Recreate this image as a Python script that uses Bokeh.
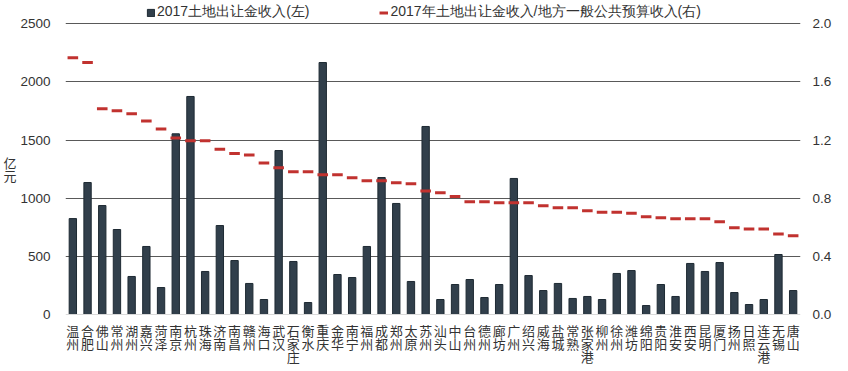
from bokeh.plotting import figure
from bokeh.models import (Range1d, LinearAxis, FixedTicker, Legend, LegendItem,
                          FactorRange, ColumnDataSource, NumeralTickFormatter, Span)
from bokeh.core.properties import value
from bokeh.embed import file_html
from bokeh.resources import INLINE

cities = ["温州", "合肥", "佛山", "常州", "湖州", "嘉兴", "菏泽", "南京", "杭州", "珠海",
          "济南", "南昌", "赣州", "海口", "武汉", "石家庄", "衡水", "重庆", "金华", "南宁",
          "福州", "成都", "郑州", "太原", "苏州", "汕头", "中山", "台州", "德州", "廊坊",
          "广州", "绍兴", "威海", "盐城", "常熟", "张家港", "柳州", "徐州", "潍坊", "绵阳",
          "贵阳", "淮安", "西安", "昆明", "厦门", "扬州", "日照", "连云港", "无锡", "唐山"]

land_revenue = [825, 1135, 937, 731, 327, 585, 232, 1554, 1875, 370,
                765, 464, 267, 129, 1410, 456, 103, 2167, 344, 318,
                585, 1178, 955, 284, 1617, 129, 258, 301, 146, 258,
                1170, 335, 206, 267, 138, 155, 129, 353, 378, 77,
                258, 155, 439, 370, 447, 189, 86, 129, 516, 206]

ratio = [1.766, 1.734, 1.415, 1.401, 1.381, 1.332, 1.277, 1.215, 1.195, 1.195,
         1.137, 1.108, 1.098, 1.043, 1.009, 0.982, 0.982, 0.961, 0.961, 0.940,
         0.920, 0.920, 0.906, 0.899, 0.849, 0.837, 0.812, 0.775, 0.775, 0.768,
         0.768, 0.768, 0.748, 0.734, 0.734, 0.713, 0.704, 0.704, 0.697, 0.672,
         0.665, 0.658, 0.658, 0.658, 0.638, 0.596, 0.589, 0.589, 0.553, 0.541]

left_ticks = [0, 500, 1000, 1500, 2000, 2500]
right_ticks = [0.0, 0.4, 0.8, 1.2, 1.6, 2.0]
legend_labels = ["2017土地出让金收入(左)", "2017年土地出让金收入/地方一般公共预算收入(右)"]
y_title = "亿元"

BAR = "#313F4B"
RED = "#C1322F"
TXT = "#333333"
LATIN = "Liberation Sans"
CJK = "Noto Sans CJK SC"

# frame covers the whole height; the range extends below 0 for the category labels
Y_START, Y_END = -490.2, 2700.4
PX = 371.0 / (Y_END - Y_START)          # pixels per left-axis unit
R_SCALE = right_ticks[-1] / left_ticks[-1]

source = ColumnDataSource(dict(x=cities, v=land_revenue, r=ratio))

# stacked (vertical) category labels: one entry per character
lx, lch, loff = [], [], []
for c in cities:
    for k, ch in enumerate(c):
        lx.append(c)
        lch.append(ch)
        loff.append(15.5 + 13 * k)
lab_src = ColumnDataSource(dict(x=lx, t=lch, off=loff))

p = figure(x_range=FactorRange(factors=cities), y_range=Range1d(Y_START, Y_END),
           width=848, height=371, output_backend="svg", toolbar_location=None,
           min_border_left=65, min_border_right=48, min_border_top=0, min_border_bottom=0)
p.extra_y_ranges = {"r": Range1d(Y_START * R_SCALE, Y_END * R_SCALE)}
p.outline_line_color = None
p.background_fill_color = "white"

bars = p.vbar(x="x", top="v", width=0.5, source=source,
              fill_color=BAR, line_color="#1E2A33", line_width=1)
p.rect(x="x", y="r", width=0.72, height=3, height_units="screen", y_range_name="r",
       source=source, fill_color=RED, line_color=None)
ratio_leg = p.line(x="x", y="r", source=source, line_color=RED, line_width=3,
                   y_range_name="r", visible=False)

p.text(x="x", y=0, text="t", y_offset="off", source=lab_src,
       text_font=value(CJK), text_font_size="13px", text_color=TXT,
       text_align="center", text_baseline="middle")

p.add_layout(Span(location=0, dimension="width", line_color="#D9D9D9", line_width=1))

# grid
p.xgrid.grid_line_color = None
p.ygrid.ticker = FixedTicker(ticks=left_ticks[1:])
p.ygrid.grid_line_color = "#595959"
p.ygrid.grid_line_width = 1

p.xaxis.visible = False


def plain(ax, standoff, font, size):
    ax.axis_line_color = None
    ax.major_tick_line_color = None
    ax.minor_tick_line_color = None
    ax.major_tick_in = 0
    ax.major_tick_out = 0
    ax.major_label_standoff = standoff
    ax.major_label_text_font = font
    ax.major_label_text_font_size = size
    ax.major_label_text_color = TXT


# left axis
ya = p.yaxis[0]
ya.ticker = FixedTicker(ticks=left_ticks)
plain(ya, 15, LATIN, "13.5px")

# y title as stacked characters (second, outer left axis)
title_pos = [round((314 - (161.5 + 13.5 * k)) / PX, 1) for k in range(len(y_title))]
ta = LinearAxis(ticker=FixedTicker(ticks=title_pos),
                major_label_overrides={v: ch for v, ch in zip(title_pos, y_title)})
plain(ta, 1, CJK, "13px")
p.add_layout(ta, "left")

# right axis
ra = LinearAxis(y_range_name="r", ticker=FixedTicker(ticks=right_ticks),
                formatter=NumeralTickFormatter(format="0.0"))
plain(ra, 12, LATIN, "13.5px")
p.add_layout(ra, "right")

legend = Legend(items=[LegendItem(label=legend_labels[0], renderers=[bars]),
                       LegendItem(label=legend_labels[1], renderers=[ratio_leg])],
                orientation="horizontal", location=(81, 350),
                glyph_width=9, glyph_height=9, label_height=15, label_standoff=2,
                spacing=70, padding=0, margin=0, border_line_color=None,
                background_fill_alpha=0, inactive_fill_alpha=0, label_text_font=LATIN,
                label_text_font_size="14px", label_text_color=TXT)
p.add_layout(legend, "center")

open("out.html", "w").write(file_html(p, INLINE))
